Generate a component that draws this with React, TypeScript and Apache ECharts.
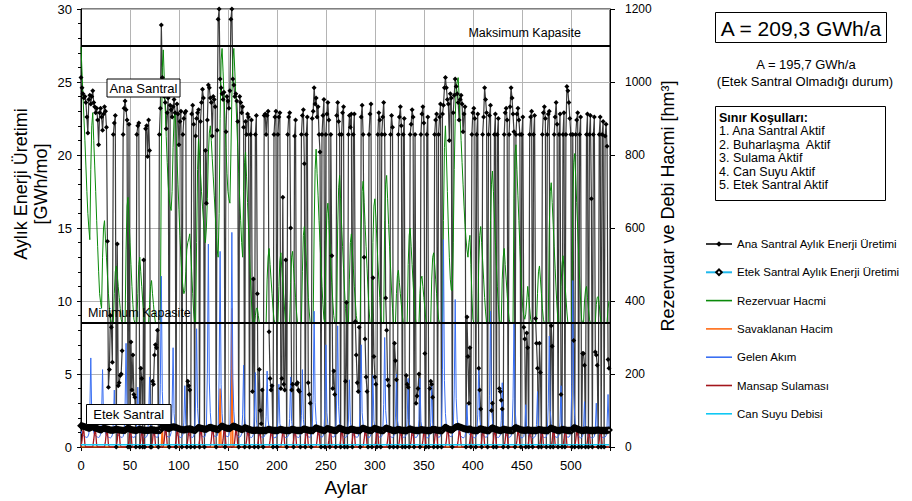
import React, { useEffect, useRef } from "react";
import * as echarts from "echarts";

const FONT = '"Liberation Sans", Arial, sans-serif';

// Ana Santral monthly energy (GWh/mo), one row per 12 months
const anaSantral = [
  25.3,24.6,24.2,23.9,24.0,23.6,22.6,21.5,23.8,24.1,23.5,24.0,
  24.4,23.6,23.3,22.9,23.2,22.4,20.7,22.9,23.2,22.6,21.7,22.8,
  23.3,23.0,21.9,14.1,4.1,5.3,9.0,8.2,5.8,21.4,22.2,22.7,
  0,13.9,4.2,4.4,4.9,5.0,6.6,21.4,23.2,23.7,23.1,22.4,
  0,22.1,0,7.2,3.9,6.3,3.6,3.4,0,21.4,22.0,22.2,
  0,5.4,4.7,0,12.8,0,21.8,22.0,19.9,22.4,20.3,0,
  0,4.5,4.3,6.3,7.0,6.8,8.0,0,21.4,23.2,28.9,25.3,
  24.5,24.0,23.6,21.8,22.9,23.9,0,23.4,23.1,22.6,23.3,23.8,
  22.9,0,23.5,22.8,20.7,22.3,23.0,0,21.4,22.5,22.9,23.0,
  0,4.5,4.2,3.9,0,22.8,23.4,22.1,0,21.3,22.5,22.9,
  23.1,0,22.3,23.6,24.5,23.9,0,20.3,16.7,22.4,24.8,24.6,
  23.9,23.6,21.3,24.0,23.8,23.3,0,21.7,29.3,30.0,25.2,24.6,
  24.2,23.8,24.3,0,21.6,24.0,23.7,23.2,24.4,29.3,30.0,25.2,
  24.8,24.0,24.2,23.7,22.3,0,24.0,23.6,22.9,23.3,21.9,0,
  22.3,21.4,22.8,22.6,0,21.4,22.4,3.8,11.5,0,21.4,22.7,
  10.5,0,5.3,2.5,1.6,3.9,0,22.7,22.8,21.4,22.7,23.0,
  7.9,4.7,3.9,4.2,0,21.4,22.6,23.0,0,21.4,22.6,22.9,
  4.0,4.7,17.1,4.3,3.9,12.8,0,21.4,22.6,22.9,15.0,3.9,
  4.3,0,21.3,22.4,4.3,4.4,3.9,3.8,0,21.4,22.7,23.1,
  19.4,0,21.4,22.6,4.4,3.6,3.0,0,22.5,23.0,24.6,23.5,
  23.9,22.6,23.3,21.4,20.2,0,21.4,22.7,23.8,0,21.4,22.8,
  23.6,22.4,0,21.4,13.1,4.0,5.2,3.6,0,22.7,23.6,22.3,
  21.4,0,21.4,22.9,23.3,0,4.5,9.9,0,21.4,22.7,21.9,
  22.8,0,21.4,22.8,8.6,6.3,4.4,3.8,8.2,0,22.6,23.4,
  21.4,13.0,7.4,4.8,3.8,0,21.4,22.8,23.5,0,11.6,6.2,
  4.8,4.3,0,21.4,22.9,22.4,0,21.4,22.6,23.6,21.4,10.2,
  8.0,4.6,4.2,0,21.4,22.7,21.9,0,7.1,5.9,4.6,0,
  21.4,22.6,23.3,22.0,0,21.4,22.5,0,4.9,4.3,4.1,0,
  21.4,22.1,23.1,22.6,0,21.4,3.0,3.5,4.0,5.0,0,21.4,
  22.8,23.3,22.2,6.4,0,21.4,22.6,0,4.0,4.5,4.3,3.4,
  0,21.4,22.4,22.8,0,21.4,22.6,23.5,0,22.8,23.4,24.6,
  25.3,24.6,23.8,23.5,21.0,24.2,23.9,0,22.9,24.1,25.2,24.7,
  24.2,23.6,22.4,23.8,24.1,23.5,21.6,22.8,23.3,0,8.9,6.2,
  3.0,6.8,0,21.4,22.9,23.2,22.5,0,21.4,22.8,5.4,3.9,
  2.6,0,21.4,22.6,24.6,23.8,22.9,0,21.4,22.7,23.4,2.5,
  3.0,0,21.4,22.8,0,21.4,22.5,4.0,3.8,3.2,2.6,0,
  21.4,22.9,23.2,22.4,0,21.4,23.3,24.6,23.9,22.8,21.6,0,
  21.4,22.8,23.2,22.4,21.4,0,21.4,22.6,8.2,7.4,0,7.8,
  6.8,0,21.4,22.6,23.0,0,21.4,22.7,8.8,7.1,5.4,0,
  7.1,5.1,0,21.4,22.9,23.3,22.5,0,21.4,22.8,23.0,0,
  8.3,6.9,0,21.4,22.6,23.6,22.1,0,21.4,22.8,3.6,0,
  21.4,22.9,0,21.4,24.7,24.4,23.6,22.5,21.4,0,21.4,7.3,
  0,21.4,22.4,22.9,0,21.4,22.6,0,6.4,6.4,5.6,0,
  21.4,22.8,0,21.4,22.7,17.0,0,21.4,22.6,6.5,6.3,5.6,
  0,21.4,22.6,0,21.4,22.3,0,21.3,22.1,20.6,6.0,5.4,
];

// Etek Santral monthly energy (GWh/mo)
const etekSantral = [
  1.46,1.44,1.42,1.40,1.38,1.36,1.34,1.32,1.30,1.29,1.33,1.37,
  1.38,1.35,1.32,1.30,1.27,1.25,1.22,1.20,1.19,1.18,1.24,1.27,
  1.28,1.26,1.24,1.22,1.20,1.18,1.16,1.15,1.15,1.15,1.18,1.20,
  1.21,1.20,1.19,1.17,1.16,1.15,1.14,1.14,1.14,1.14,1.22,1.26,
  1.27,1.25,1.22,1.20,1.18,1.16,1.15,1.14,1.14,1.14,1.17,1.20,
  1.21,1.19,1.18,1.16,1.15,1.14,1.14,1.14,1.14,1.14,1.16,1.18,
  1.18,1.17,1.16,1.15,1.14,1.14,1.14,1.14,1.14,1.14,1.30,1.40,
  1.42,1.39,1.36,1.33,1.30,1.27,1.26,1.30,1.34,1.36,1.38,1.37,
  1.36,1.34,1.31,1.28,1.26,1.23,1.21,1.19,1.18,1.17,1.18,1.20,
  1.22,1.23,1.23,1.24,1.22,1.20,1.18,1.16,1.14,1.14,1.23,1.30,
  1.33,1.31,1.29,1.27,1.26,1.24,1.22,1.22,1.23,1.26,1.31,1.33,
  1.34,1.32,1.30,1.28,1.26,1.25,1.23,1.21,1.20,1.25,1.35,1.41,
  1.43,1.40,1.37,1.34,1.31,1.28,1.27,1.27,1.26,1.31,1.37,1.41,
  1.43,1.40,1.37,1.34,1.31,1.28,1.26,1.23,1.21,1.20,1.27,1.30,
  1.31,1.28,1.25,1.23,1.20,1.17,1.15,1.14,1.14,1.14,1.14,1.15,
  1.15,1.14,1.13,1.13,1.13,1.13,1.13,1.13,1.13,1.13,1.17,1.20,
  1.21,1.19,1.17,1.16,1.14,1.13,1.13,1.13,1.13,1.13,1.17,1.19,
  1.20,1.18,1.17,1.15,1.14,1.13,1.13,1.13,1.13,1.13,1.17,1.20,
  1.20,1.18,1.17,1.15,1.14,1.13,1.13,1.13,1.13,1.13,1.18,1.22,
  1.23,1.21,1.19,1.17,1.15,1.14,1.13,1.13,1.13,1.13,1.23,1.29,
  1.31,1.28,1.26,1.23,1.21,1.18,1.16,1.14,1.13,1.13,1.21,1.25,
  1.26,1.24,1.21,1.19,1.17,1.15,1.14,1.13,1.13,1.13,1.23,1.28,
  1.29,1.26,1.24,1.21,1.19,1.16,1.14,1.13,1.13,1.13,1.17,1.21,
  1.22,1.21,1.19,1.17,1.15,1.14,1.13,1.13,1.13,1.13,1.23,1.27,
  1.28,1.26,1.24,1.21,1.19,1.16,1.14,1.13,1.13,1.13,1.22,1.26,
  1.27,1.25,1.22,1.20,1.18,1.16,1.14,1.13,1.13,1.13,1.24,1.28,
  1.29,1.26,1.24,1.21,1.19,1.16,1.14,1.13,1.13,1.13,1.16,1.18,
  1.19,1.18,1.17,1.15,1.14,1.13,1.13,1.13,1.13,1.13,1.19,1.22,
  1.23,1.21,1.19,1.17,1.15,1.14,1.13,1.13,1.13,1.13,1.16,1.18,
  1.18,1.17,1.16,1.15,1.14,1.13,1.13,1.13,1.13,1.13,1.18,1.20,
  1.21,1.19,1.18,1.16,1.15,1.14,1.13,1.13,1.13,1.13,1.24,1.32,
  1.34,1.32,1.28,1.24,1.21,1.18,1.17,1.17,1.22,1.30,1.35,1.38,
  1.40,1.41,1.38,1.36,1.33,1.31,1.28,1.26,1.24,1.22,1.21,1.20,
  1.22,1.23,1.20,1.17,1.14,1.13,1.13,1.13,1.13,1.13,1.20,1.23,
  1.24,1.22,1.20,1.18,1.16,1.15,1.13,1.13,1.13,1.13,1.24,1.28,
  1.30,1.27,1.25,1.22,1.20,1.17,1.15,1.14,1.13,1.13,1.18,1.20,
  1.21,1.19,1.18,1.16,1.15,1.14,1.13,1.13,1.13,1.13,1.26,1.31,
  1.32,1.29,1.27,1.24,1.21,1.18,1.16,1.15,1.14,1.14,1.14,1.16,
  1.17,1.16,1.15,1.14,1.13,1.13,1.13,1.13,1.13,1.13,1.16,1.18,
  1.19,1.17,1.16,1.15,1.14,1.13,1.13,1.13,1.13,1.13,1.23,1.27,
  1.28,1.26,1.24,1.21,1.19,1.16,1.14,1.13,1.13,1.13,1.17,1.19,
  1.20,1.19,1.17,1.16,1.14,1.13,1.13,1.13,1.13,1.13,1.25,1.30,
  1.31,1.29,1.26,1.23,1.20,1.17,1.15,1.13,1.13,1.13,1.15,1.16,
  1.17,1.16,1.15,1.14,1.13,1.13,1.13,1.13,1.13,1.13,1.15,1.16,
  1.16,1.15,1.14,1.13,1.13,1.13,1.13,1.13,1.13,1.13,1.15,1.16,
];

// Reservoir volume (hm3)
const rezervuarHacmi = [
  1096,1030,965,900,840,770,700,640,600,568,760,880,
  916,840,770,700,620,550,480,420,396,380,520,600,
  620,570,520,470,420,380,350,340,340,340,420,480,
  496,470,440,410,380,350,340,340,340,340,540,660,
  684,620,560,500,440,390,350,340,340,340,420,500,
  520,480,440,400,360,340,340,340,340,340,390,440,
  456,420,390,360,340,340,340,340,340,340,800,1040,
  1088,1010,930,850,780,720,680,660,648,700,820,900,
  920,860,790,720,650,580,520,470,440,420,428,480,
  540,560,570,584,540,480,420,370,340,340,560,760,
  844,800,750,700,660,620,580,560,600,680,800,860,
  880,840,790,740,690,640,590,540,520,640,900,1060,
  1092,1030,960,890,820,750,700,680,668,800,960,1060,
  1092,1030,960,890,820,750,680,620,560,520,700,780,
  808,740,670,600,530,460,400,350,340,340,360,380,
  380,360,340,340,340,340,340,340,340,340,460,520,
  544,500,460,420,380,350,340,340,340,340,440,510,
  532,490,450,410,370,340,340,340,340,340,450,520,
  536,490,450,410,370,340,340,340,340,340,480,580,
  604,560,510,460,410,370,340,340,340,340,600,760,
  816,750,690,620,560,500,440,390,350,340,540,640,
  668,620,560,500,450,400,360,340,340,340,600,710,
  744,680,610,550,490,430,380,340,340,340,460,560,
  584,540,490,440,400,360,340,340,340,340,600,700,
  728,670,610,550,490,430,380,340,340,340,560,660,
  680,630,570,510,460,410,360,340,340,340,620,720,
  744,680,610,550,490,430,380,340,340,340,420,470,
  484,450,420,390,360,340,340,340,340,340,500,580,
  600,550,500,450,400,360,340,340,340,340,420,460,
  468,440,410,380,350,340,340,340,340,340,460,520,
  532,500,460,420,380,350,340,340,340,340,620,820,
  880,800,700,600,520,460,430,428,560,760,900,980,
  1000,1012,960,900,840,780,720,660,610,570,540,520,
  560,580,500,420,350,340,340,340,340,340,500,580,
  604,560,510,460,410,370,340,340,340,340,620,720,
  756,700,630,560,500,440,390,350,340,340,460,520,
  544,500,460,420,380,350,340,340,340,340,680,800,
  828,760,690,620,550,480,420,380,360,350,364,400,
  440,410,380,350,340,340,340,340,340,340,420,480,
  496,460,420,380,350,340,340,340,340,340,600,700,
  724,670,610,550,490,430,380,340,340,340,440,500,
  524,490,450,410,370,340,340,340,340,340,660,780,
  804,740,670,600,530,460,400,350,340,340,400,430,
  440,410,380,350,340,340,340,340,340,340,390,410,
  412,390,360,340,340,340,340,340,340,340,380,400,
];

// Spilled volume (hm3): [month, value]
const savaklananHacim = [
  [0, 0], [82, 0], [83, 56], [84, 0], [141, 0], [142, 160], [143, 0],
  [153, 0], [154, 380], [155, 0], [539, 0],
];

// Inflow (hm3)
const gelenAkim = [
  44,36,32,30,28,27,26,28,36,92,244,82,
  54,40,33,30,28,27,26,28,35,82,212,74,
  50,38,32,29,27,26,25,27,33,64,156,60,
  48,37,32,30,28,27,26,29,38,112,284,94,
  58,42,34,31,28,27,26,28,34,68,164,62,
  50,38,32,29,27,27,26,28,35,78,192,68,
  52,39,33,30,28,27,26,30,46,172,468,152,
  80,50,37,32,29,28,27,29,40,106,272,92,
  58,42,34,31,28,27,26,28,34,68,168,62,
  52,39,33,30,28,27,26,30,42,126,324,106,
  66,46,36,32,29,28,27,31,52,202,556,178,
  94,56,40,34,30,29,28,31,50,198,536,172,
  92,56,40,34,30,29,28,32,52,214,588,188,
  98,58,40,33,30,28,27,29,37,88,224,80,
  54,40,33,30,28,27,26,28,35,82,204,74,
  52,39,33,30,28,27,26,28,35,84,208,74,
  52,39,32,29,27,26,25,27,33,70,172,64,
  50,38,32,29,27,26,26,28,34,78,192,70,
  52,39,33,30,28,27,26,28,35,86,212,76,
  54,40,33,30,28,27,27,30,44,142,372,122,
  72,48,36,32,29,28,27,29,40,110,280,94,
  62,44,35,31,29,28,27,30,42,128,332,110,
  64,44,35,31,28,27,26,28,34,74,184,68,
  52,39,33,30,28,27,27,29,40,108,280,94,
  60,43,34,31,28,27,26,28,34,80,196,72,
  52,39,33,30,28,27,27,29,40,116,300,100,
  64,44,35,31,28,27,26,28,35,82,200,74,
  54,40,33,30,28,27,26,28,34,76,188,70,
  52,39,33,30,28,27,26,28,34,76,188,70,
  52,39,32,29,27,26,25,27,33,68,168,64,
  50,38,32,30,28,27,27,31,52,212,568,182,
  92,56,40,34,30,29,28,31,46,156,404,132,
  76,50,37,32,29,27,25,26,29,48,116,46,
  38,33,30,28,27,26,25,28,35,88,220,80,
  54,40,33,30,28,27,27,30,44,142,372,122,
  72,48,36,32,29,27,26,28,33,72,176,66,
  50,38,32,30,28,27,27,30,42,132,340,112,
  68,46,36,31,28,27,25,26,29,48,116,46,
  38,33,30,28,27,26,25,27,31,62,152,58,
  46,36,31,29,27,26,26,28,38,118,304,100,
  64,44,35,31,28,27,26,28,33,68,168,64,
  50,38,32,30,28,27,27,31,48,172,456,148,
  84,52,38,32,29,27,25,26,29,52,124,48,
  40,34,30,28,27,26,25,26,29,50,120,47,
  40,34,30,28,27,26,25,27,31,58,144,54,
];

// Downstream irrigation (hm3)
const mansapSulamasi = [
  0,18,46,42,6,0,0,0,0,0,0,0,
  0,20,44,40,5,0,0,0,0,0,0,0,
  0,16,45,41,7,0,0,0,0,0,0,0,
  0,19,47,42,6,0,0,0,0,0,0,0,
  0,18,44,40,5,0,0,0,0,0,0,0,
  0,20,46,41,6,0,0,0,0,0,0,0,
  0,17,45,42,7,0,0,0,0,0,0,0,
  0,19,48,43,6,0,0,0,0,0,0,0,
  0,18,45,40,5,0,0,0,0,0,0,0,
  0,20,46,42,6,0,0,0,0,0,0,0,
  0,18,47,43,7,0,0,0,0,0,0,0,
  0,19,48,44,6,0,0,0,0,0,0,0,
  0,20,48,43,6,0,0,0,0,0,0,0,
  0,19,47,42,5,0,0,0,0,0,0,0,
  0,18,45,40,6,0,0,0,0,0,0,0,
  0,17,44,40,5,0,0,0,0,0,0,0,
  0,18,45,41,6,0,0,0,0,0,0,0,
  0,19,44,40,5,0,0,0,0,0,0,0,
  0,18,45,41,6,0,0,0,0,0,0,0,
  0,20,46,42,6,0,0,0,0,0,0,0,
  0,19,47,42,7,0,0,0,0,0,0,0,
  0,18,46,41,6,0,0,0,0,0,0,0,
  0,19,45,41,5,0,0,0,0,0,0,0,
  0,18,46,42,6,0,0,0,0,0,0,0,
  0,20,45,40,6,0,0,0,0,0,0,0,
  0,18,46,42,7,0,0,0,0,0,0,0,
  0,19,45,41,6,0,0,0,0,0,0,0,
  0,17,44,40,5,0,0,0,0,0,0,0,
  0,18,45,41,6,0,0,0,0,0,0,0,
  0,18,44,40,5,0,0,0,0,0,0,0,
  0,20,47,43,6,0,0,0,0,0,0,0,
  0,19,48,43,7,0,0,0,0,0,0,0,
  0,18,45,41,6,0,0,0,0,0,0,0,
  0,17,44,40,5,0,0,0,0,0,0,0,
  0,19,46,42,6,0,0,0,0,0,0,0,
  0,18,45,41,6,0,0,0,0,0,0,0,
  0,19,46,41,5,0,0,0,0,0,0,0,
  0,18,44,40,6,0,0,0,0,0,0,0,
  0,17,44,40,5,0,0,0,0,0,0,0,
  0,19,46,42,6,0,0,0,0,0,0,0,
  0,18,45,41,6,0,0,0,0,0,0,0,
  0,20,46,42,7,0,0,0,0,0,0,0,
  0,18,44,40,5,0,0,0,0,0,0,0,
  0,17,44,40,5,0,0,0,0,0,0,0,
  0,18,45,41,6,0,0,0,0,0,0,0,
];

// Environmental flow (hm3): [month, value]
const canSuyuDebisi = [[0, 6], [539, 6]];

// Capacity limits (hm3 on the right axis)
const maksimumKapasite = 1100;
const minimumKapasite = 340;

const xTicks = { min: 0, max: 540, interval: 50 };
const leftTicks = { min: 0, max: 30, interval: 5 };
const rightTicks = { min: 0, max: 1200, interval: 200 };

const seriesNames = [
  "Ana Santral Aylık Enerji Üretimi",
  "Etek Santral Aylık Enerji Üretimi",
  "Rezervuar Hacmi",
  "Savaklanan Hacim",
  "Gelen Akım",
  "Mansap Sulaması",
  "Can Suyu Debisi",
];

const sinirKosullari = [
  "1. Ana Santral Aktif",
  "2. Buharlaşma  Aktif",
  "3. Sulama Aktif",
  "4. Can Suyu Aktif",
  "5. Etek Santral Aktif",
];

const toPairs = (arr: number[]) => arr.map((v, i) => [i, v]);

const LINE_ICON = "path://M0,0 L26,0 L26,1.6 L0,1.6 Z";

function txt(x: number, y: number, text: string, size: number, align = "center", extra: any = {}) {
  return {
    type: "text",
    x,
    y,
    z: 100,
    rotation: extra.rotation || 0,
    style: {
      text,
      fill: "#000",
      font: `${extra.weight || "normal"} ${size}px ${FONT}`,
      align,
      textAlign: align,
      verticalAlign: "middle",
      textVerticalAlign: "middle",
    },
  };
}

function box(x: number, y: number, w: number, h: number) {
  return {
    type: "rect",
    z: 99,
    shape: { x, y, width: w, height: h },
    style: { fill: "#fff", stroke: "#000", lineWidth: 1 },
  };
}

export default function App() {
  const ref = useRef<HTMLDivElement>(null);
  useEffect(() => {
    if (!ref.current) return;
    const chart = echarts.init(ref.current, undefined, { renderer: "svg" });
    const axisLabelBase = { color: "#000", fontFamily: FONT };
    const option: any = {
      animation: false,
      backgroundColor: "#fff",
      textStyle: { fontFamily: FONT },
      grid: {
        left: 81, right: 302, top: 9, bottom: 54,
        show: true, borderColor: "#000", borderWidth: 1, backgroundColor: "transparent",
      },
      xAxis: {
        type: "value", ...xTicks,
        axisLine: { show: true, lineStyle: { color: "#000", width: 1 } },
        axisTick: { show: true, length: 4, lineStyle: { color: "#000" } },
        axisLabel: { ...axisLabelBase, fontSize: 13, margin: 12,
          formatter: (v: number) => (v % 50 === 0 ? String(v) : "") },
        splitLine: { show: true, lineStyle: { color: "#b4b4b4", width: 1 } },
      },
      yAxis: [
        {
          type: "value", ...leftTicks, position: "left",
          axisLine: { show: true, lineStyle: { color: "#000" } },
          axisTick: { show: true, length: 4, lineStyle: { color: "#000" } },
          minorTick: { show: true, splitNumber: 5, length: 3, lineStyle: { color: "#000" } },
          axisLabel: { ...axisLabelBase, fontSize: 13, margin: 9 },
          splitLine: { show: true, lineStyle: { color: "#b4b4b4", width: 1 } },
        },
        {
          type: "value", ...rightTicks, position: "right",
          axisLine: { show: true, lineStyle: { color: "#000" } },
          axisTick: { show: true, length: 5, lineStyle: { color: "#000" } },
          axisLabel: { ...axisLabelBase, fontSize: 12, margin: 15,
            formatter: (v: number) => String(v) },
          splitLine: { show: false },
        },
      ],
      legend: {
        orient: "vertical", left: 705, top: 237, padding: 0,
        itemWidth: 26, itemHeight: 7, itemGap: 14.3,
        textStyle: { fontSize: 11.5, lineHeight: 14, color: "#000", fontFamily: FONT },
        data: seriesNames.map((n, i) => (i < 2 ? { name: n } : { name: n, icon: LINE_ICON })),
      },
      series: [
        {
          name: seriesNames[0], type: "line", yAxisIndex: 0,
          data: toPairs(anaSantral),
          symbol: "diamond", symbolSize: 5, showSymbol: true,
          lineStyle: { color: "#3c3c3c", width: 1.2 },
          itemStyle: { color: "#000" },
        },
        {
          name: seriesNames[1], type: "line", yAxisIndex: 0,
          data: toPairs(etekSantral),
          symbol: "emptyDiamond", symbolSize: 5, showSymbol: true,
          lineStyle: { color: "#1fb8ec", width: 1 },
          itemStyle: { color: "#000", borderWidth: 1 },
        },
        {
          name: seriesNames[2], type: "line", yAxisIndex: 1,
          data: toPairs(rezervuarHacmi), symbol: "none",
          lineStyle: { color: "#0a8a0a", width: 1 }, itemStyle: { color: "#0a8a0a" },
        },
        {
          name: seriesNames[3], type: "line", yAxisIndex: 1,
          data: savaklananHacim, symbol: "none",
          lineStyle: { color: "#ff6a13", width: 1.5 }, itemStyle: { color: "#ff6a13" },
        },
        {
          name: seriesNames[4], type: "line", yAxisIndex: 1,
          data: toPairs(gelenAkim), symbol: "none",
          lineStyle: { color: "#3a6ff2", width: 1 }, itemStyle: { color: "#3a6ff2" },
        },
        {
          name: seriesNames[5], type: "line", yAxisIndex: 1,
          data: toPairs(mansapSulamasi), symbol: "none",
          lineStyle: { color: "#a3161c", width: 1.3 }, itemStyle: { color: "#a3161c" },
        },
        {
          name: seriesNames[6], type: "line", yAxisIndex: 1,
          data: canSuyuDebisi, symbol: "none",
          lineStyle: { color: "#10c8f4", width: 1.5 }, itemStyle: { color: "#10c8f4" },
          markLine: {
            silent: true, symbol: "none", label: { show: false },
            lineStyle: { color: "#000", width: 2, type: "solid" },
            data: [{ yAxis: maksimumKapasite }, { yAxis: minimumKapasite }],
          },
        },
      ],
      graphic: [
        txt(21, 184, "Aylık Enerji Üretimi", 18, "center", { rotation: Math.PI / 2 }),
        txt(41, 184, "[GWh/mo]", 18, "center", { rotation: Math.PI / 2 }),
        txt(668, 206, "Rezervuar ve Debi Hacmi [hm³]", 18, "center", { rotation: Math.PI / 2 }),
        txt(346, 487, "Aylar", 19),
        txt(581, 33, "Maksimum Kapasite", 12.5, "right"),
        txt(88, 313, "Minimum Kapasite", 12.5, "left"),
        box(107, 79, 73, 18),
        txt(143.5, 88.5, "Ana Santral", 13),
        box(86.5, 404.5, 84.5, 20),
        txt(128.7, 414.5, "Etek Santral", 13),
        box(715.5, 12.5, 171, 30),
        txt(801, 28, "A = 209,3 GWh/a", 21),
        txt(806, 64, "A = 195,7 GWh/a", 13),
        txt(805, 81, "(Etek Santral Olmadığı durum)", 13),
        box(715.5, 106.5, 170, 94),
        txt(719, 118, "Sınır Koşulları:", 12.5, "left", { weight: "bold" }),
        ...sinirKosullari.map((s, i) => txt(719, 131 + i * 13.5, s, 12.5, "left")),
      ],
    };
    chart.setOption(option);
    return () => chart.dispose();
  }, []);
  return (
    <div
      ref={ref}
      style={{ position: "fixed", left: 0, top: 0, width: 912, height: 501, background: "#fff" }}
    />
  );
}
